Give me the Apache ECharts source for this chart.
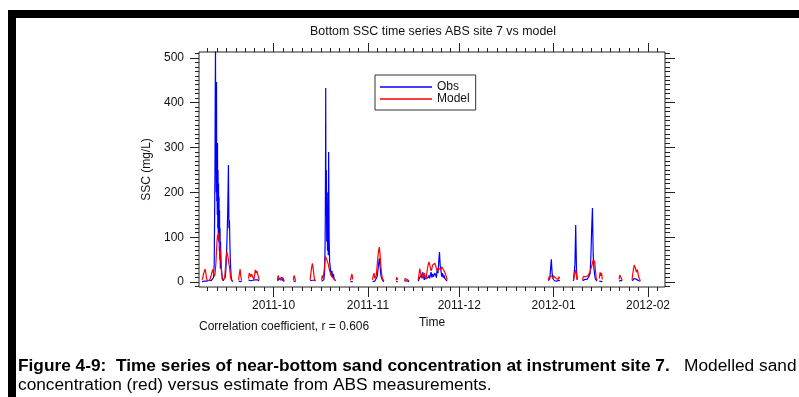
<!DOCTYPE html>
<html>
<head>
<meta charset="utf-8">
<script src="https://cdn.jsdelivr.net/npm/echarts@6/dist/echarts.min.js"></script>
<style>
  html, body { margin: 0; padding: 0; background: #fff; }
  #chart { width: 799px; height: 397px; }
</style>
</head>
<body>
<div id="chart"></div>
<script>
// Bottom SSC at ABS site 7: observed (ABS estimate) vs modelled, mg/L.
// Rows are aligned across times / obs / model, one line per burst of records;
// a null row breaks the line where there is no record.
const times = [
  '2011-09-07 12:00','2011-09-07 18:00','2011-09-08 00:00','2011-09-08 06:00','2011-09-08 12:00','2011-09-08 18:00','2011-09-09 00:00','2011-09-09 06:00','2011-09-09 12:00','2011-09-09 18:00','2011-09-10 00:00','2011-09-10 06:00','2011-09-10 12:00','2011-09-10 18:00','2011-09-11 00:00','2011-09-11 06:00','2011-09-11 12:00',
  '2011-09-11 18:00','2011-09-11 20:00','2011-09-11 22:00','2011-09-12 00:00','2011-09-12 02:00','2011-09-12 04:00','2011-09-12 06:00','2011-09-12 08:00','2011-09-12 10:00','2011-09-12 12:00','2011-09-12 14:00','2011-09-12 16:00','2011-09-12 18:00','2011-09-12 20:00','2011-09-12 22:00','2011-09-13 00:00','2011-09-13 02:00','2011-09-13 04:00','2011-09-13 06:00','2011-09-13 08:00','2011-09-13 10:00','2011-09-13 12:00','2011-09-13 14:00','2011-09-13 18:00','2011-09-13 22:00',
  '2011-09-14 04:00','2011-09-14 10:00','2011-09-14 16:00','2011-09-14 22:00','2011-09-15 04:00','2011-09-15 10:00','2011-09-15 16:00','2011-09-15 22:00','2011-09-16 04:00','2011-09-16 08:00','2011-09-16 12:00','2011-09-16 16:00','2011-09-16 20:00','2011-09-17 02:00','2011-09-17 08:00','2011-09-17 14:00','2011-09-18 00:00',
  '2011-09-19 12:00','2011-09-19 18:00','2011-09-20 00:00','2011-09-20 06:00','2011-09-20 12:00','2011-09-21 00:00',
  '2011-09-22 18:00','2011-09-23 00:00','2011-09-23 06:00','2011-09-23 12:00','2011-09-23 18:00','2011-09-24 00:00','2011-09-24 06:00','2011-09-24 12:00','2011-09-24 18:00','2011-09-25 00:00','2011-09-25 06:00','2011-09-25 12:00','2011-09-25 18:00','2011-09-26 00:00','2011-09-26 06:00','2011-09-27 00:00',
  '2011-10-02 06:00','2011-10-02 12:00','2011-10-02 18:00','2011-10-03 00:00','2011-10-03 06:00','2011-10-03 12:00','2011-10-03 18:00','2011-10-04 00:00','2011-10-04 06:00','2011-10-04 12:00','2011-10-05 00:00',
  '2011-10-07 12:00','2011-10-07 18:00','2011-10-08 00:00','2011-10-08 06:00','2011-10-09 00:00',
  '2011-10-13 00:00','2011-10-13 06:00','2011-10-13 12:00','2011-10-13 18:00','2011-10-14 00:00','2011-10-14 06:00','2011-10-14 12:00','2011-10-14 18:00','2011-10-15 12:00',
  '2011-10-16 18:00','2011-10-17 00:00','2011-10-17 06:00','2011-10-17 12:00','2011-10-17 18:00','2011-10-17 22:00','2011-10-18 00:00','2011-10-18 02:00','2011-10-18 03:00','2011-10-18 05:00','2011-10-18 08:00','2011-10-18 11:00','2011-10-18 14:00','2011-10-18 17:00','2011-10-18 20:00','2011-10-18 23:00','2011-10-19 02:00','2011-10-19 06:00','2011-10-19 10:00','2011-10-19 16:00','2011-10-19 22:00','2011-10-20 04:00','2011-10-20 10:00','2011-10-20 16:00','2011-10-20 22:00','2011-10-21 04:00','2011-10-21 10:00','2011-10-22 00:00',
  '2011-10-26 06:00','2011-10-26 12:00','2011-10-26 18:00','2011-10-27 00:00','2011-10-28 00:00',
  '2011-11-02 12:00','2011-11-02 18:00','2011-11-03 00:00','2011-11-03 06:00','2011-11-03 12:00','2011-11-03 18:00','2011-11-04 00:00','2011-11-04 06:00','2011-11-04 12:00','2011-11-04 18:00','2011-11-05 00:00','2011-11-05 06:00','2011-11-05 12:00','2011-11-05 18:00','2011-11-06 00:00','2011-11-06 06:00','2011-11-07 00:00',
  '2011-11-10 06:00','2011-11-10 12:00','2011-11-10 18:00','2011-11-11 12:00',
  '2011-11-13 00:00','2011-11-13 06:00','2011-11-13 12:00','2011-11-13 18:00','2011-11-14 00:00','2011-11-14 06:00','2011-11-14 12:00','2011-11-15 12:00',
  '2011-11-17 12:00','2011-11-17 18:00','2011-11-18 00:00','2011-11-18 06:00','2011-11-18 12:00','2011-11-18 18:00','2011-11-19 00:00','2011-11-19 06:00','2011-11-19 12:00','2011-11-19 18:00','2011-11-20 00:00','2011-11-20 06:00','2011-11-20 12:00','2011-11-20 18:00','2011-11-21 00:00','2011-11-21 06:00','2011-11-21 12:00','2011-11-21 18:00','2011-11-22 00:00','2011-11-22 06:00','2011-11-22 12:00','2011-11-22 18:00','2011-11-23 00:00','2011-11-23 06:00','2011-11-23 12:00','2011-11-23 18:00','2011-11-24 00:00','2011-11-24 06:00','2011-11-24 12:00','2011-11-24 18:00','2011-11-25 00:00','2011-11-25 06:00','2011-11-25 12:00','2011-11-25 18:00','2011-11-26 00:00','2011-11-26 06:00','2011-11-26 12:00','2011-11-26 18:00','2011-11-27 00:00','2011-11-28 00:00',
  '2011-12-30 06:00','2011-12-30 12:00','2011-12-30 18:00','2011-12-31 00:00','2011-12-31 06:00','2011-12-31 12:00','2011-12-31 18:00','2012-01-01 00:00','2012-01-01 06:00','2012-01-01 12:00','2012-01-01 18:00','2012-01-02 00:00','2012-01-02 06:00','2012-01-02 12:00','2012-01-02 18:00','2012-01-03 00:00','2012-01-04 00:00',
  '2012-01-07 12:00','2012-01-07 18:00','2012-01-08 00:00','2012-01-08 06:00','2012-01-08 12:00','2012-01-08 18:00','2012-01-09 12:00',
  '2012-01-10 12:00','2012-01-10 18:00','2012-01-11 00:00','2012-01-11 06:00','2012-01-11 12:00','2012-01-11 18:00','2012-01-12 00:00','2012-01-12 06:00','2012-01-12 12:00','2012-01-12 18:00','2012-01-13 00:00','2012-01-13 06:00','2012-01-13 12:00','2012-01-13 18:00','2012-01-14 00:00','2012-01-14 06:00','2012-01-14 12:00','2012-01-14 18:00','2012-01-15 00:00','2012-01-15 06:00','2012-01-15 18:00',
  '2012-01-16 00:00','2012-01-16 06:00','2012-01-16 12:00','2012-01-16 18:00','2012-01-17 00:00','2012-01-18 00:00',
  '2012-01-22 12:00','2012-01-22 18:00','2012-01-23 00:00','2012-01-23 06:00','2012-01-23 12:00','2012-01-24 00:00',
  '2012-01-26 18:00','2012-01-27 00:00','2012-01-27 06:00','2012-01-27 12:00','2012-01-27 18:00','2012-01-28 00:00','2012-01-28 06:00','2012-01-28 12:00','2012-01-28 18:00','2012-01-29 00:00','2012-01-29 06:00','2012-01-29 12:00'
];

const obs = [
  1,2,3,2,3,2,2,3,2,4,3,5,3,4,6,10,40,
  250,420,520,300,380,200,446,180,300,150,310,120,250,100,220,90,190,70,160,50,120,30,90,40,25,
  8,3,2,5,12,40,90,150,261,120,138,80,40,10,3,1,null,
  2,1,2,1,2,null,
  5,7,6,3,5,6,4,2,3,5,4,6,5,3,2,null,
  3,5,3,8,12,6,10,4,2,1,null,
  3,5,2,1,null,
  3,4,5,4,5,3,4,2,null,
  2,3,2,5,20,80,150,300,433,150,250,90,200,70,160,60,290,100,45,30,15,25,10,18,6,10,3,null,
  1,2,1,1,null,
  1,2,1,2,3,5,12,25,40,53,35,15,8,4,2,1,null,
  1,2,1,null,
  2,3,5,3,4,2,1,null,
  2,5,10,6,15,8,22,12,5,15,8,12,6,10,15,8,12,22,10,18,12,8,20,15,10,30,20,45,67,35,25,12,20,10,15,8,10,4,2,null,
  3,5,8,30,51,20,8,5,3,6,4,2,5,3,4,2,null,
  2,5,40,127,30,5,null,
  3,5,4,6,5,4,6,8,10,15,20,60,120,165,60,30,15,6,3,2,null,
  2,3,2,1,2,null,
  2,3,2,4,2,null,
  3,5,6,8,5,10,6,8,5,3,4,2
];

const model = [
  5,10,18,24,29,20,8,3,2,3,4,8,15,22,28,20,12,
  18,22,30,38,45,58,70,80,90,98,105,100,95,102,110,105,100,92,85,78,70,65,60,40,20,
  5,2,1,8,30,55,67,60,50,40,35,25,12,5,2,1,null,
  5,18,29,12,3,null,
  8,20,22,12,18,22,10,5,15,27,20,25,27,12,5,null,
  5,15,8,5,6,4,8,10,6,3,null,
  5,15,8,3,null,
  5,20,32,42,30,15,5,3,null,
  5,15,8,20,35,45,58,57,55,54,52,50,48,45,42,40,38,30,25,20,14,18,10,8,5,4,3,null,
  4,12,18,6,null,
  5,15,20,8,5,15,35,55,70,78,60,35,18,8,4,2,null,
  4,11,5,null,
  3,8,6,9,5,8,3,null,
  5,15,30,22,12,18,10,15,20,12,6,15,28,38,45,40,32,25,30,38,42,35,42,36,30,28,24,30,34,32,28,34,30,28,25,22,25,12,5,null,
  5,12,8,10,14,12,8,14,10,12,8,12,10,6,12,8,null,
  4,12,22,27,15,5,null,
  5,12,12,11,12,13,12,14,18,20,25,30,35,42,50,54,45,25,8,4,null,
  8,22,14,20,6,null,
  6,16,20,12,4,null,
  5,18,30,38,42,35,22,28,18,10,6,3
];

// Axis ticks and labels
const yTicks = [0, 100, 200, 300, 400, 500];
const monthTicks = ['2011-10-01', '2011-11-01', '2011-12-01', '2012-01-01', '2012-02-01'];
const xStart = '2011-09-06 12:00';
const xEnd = '2012-02-06 14:00';
const yMin = -11;
const yMax = 513;

const FONT = "'Liberation Sans', Arial, Helvetica, sans-serif";
const INK = '#111';

function toTime(s) {
  const [d, t = '00:00'] = s.split(' ');
  const [y, m, dd] = d.split('-').map(Number);
  const [hh, mm] = t.split(':').map(Number);
  return new Date(y, m - 1, dd, hh, mm).getTime();
}

const obsData = times.map((t, i) => [toTime(t), obs[i] == null ? '-' : obs[i]]);
const modelData = times.map((t, i) => [toTime(t), model[i] == null ? '-' : model[i]]);

// Month ticks, and minor ticks splitting each month into ten parts
const monthMs = monthTicks.map(s => toTime(s));
const minorX = [];
for (let i = 0; i < monthMs.length - 1; i++) {
  const step = (monthMs[i + 1] - monthMs[i]) / 10;
  for (let k = 1; k < 10; k++) minorX.push(monthMs[i] + k * step);
}
const firstStep = (monthMs[1] - monthMs[0]) / 10;
for (let v = monthMs[0] - firstStep; v >= toTime(xStart); v -= firstStep) minorX.push(v);
const lastStep = (toTime('2012-03-01') - monthMs[monthMs.length - 1]) / 10;
for (let v = monthMs[monthMs.length - 1] + lastStep; v <= toTime(xEnd); v += lastStep) minorX.push(v);
minorX.sort((a, b) => a - b);

const minorY = [];
for (let v = -10; v <= 510; v += 10) if (v % 100 !== 0) minorY.push(v);

function pad(n) { return (n < 10 ? '0' : '') + n; }
function monthLabel(v) {
  const d = new Date(v);
  return d.getFullYear() + '-' + pad(d.getMonth() + 1);
}

const tickLine = { color: '#222', width: 1 };
const gridBox = { left: 199, right: 134, top: 52, bottom: 110 };

// time runs on a numeric (epoch ms) axis so ticks can sit exactly on month starts
function xAx(gridIndex, position, ticks, len, labels) {
  return {
    type: 'value', gridIndex, position, scale: true,
    min: toTime(xStart), max: toTime(xEnd),
    axisLine: { show: false, onZero: false },
    axisTick: { show: true, customValues: ticks, length: len, inside: false, lineStyle: tickLine },
    axisLabel: labels ? {
      show: true, customValues: ticks, formatter: monthLabel, margin: 13,
      fontSize: 12, color: INK, fontFamily: FONT
    } : { show: false },
    splitLine: { show: false },
    axisPointer: { show: false }
  };
}
function yAx(gridIndex, position, ticks, len, labels) {
  return {
    type: 'value', gridIndex, position, min: yMin, max: yMax,
    axisLine: { show: false, onZero: false },
    axisTick: { show: true, customValues: ticks, length: len, inside: false, lineStyle: tickLine },
    axisLabel: labels ? {
      show: true, customValues: ticks, margin: 15, fontSize: 12, color: INK, fontFamily: FONT
    } : { show: false },
    splitLine: { show: false }
  };
}

const xAxes = [
  Object.assign(xAx(0, 'bottom', monthMs, 10, true), {
    name: 'Time', nameLocation: 'middle', nameGap: 21,
    nameTextStyle: { fontSize: 12, color: INK, fontFamily: FONT }
  }),
  xAx(0, 'top', monthMs, 9, false),
  xAx(1, 'bottom', minorX, 4, false),
  xAx(1, 'top', minorX, 4, false)
];
const yAxes = [
  Object.assign(yAx(0, 'left', yTicks, 9, true), {
    name: 'SSC (mg/L)', nameLocation: 'middle', nameGap: 43, nameRotate: 90,
    nameTextStyle: { fontSize: 12, color: INK, fontFamily: FONT }
  }),
  yAx(0, 'right', yTicks, 10, false),
  yAx(1, 'left', minorY, 4, false),
  yAx(1, 'right', minorY, 5, false)
];

const chart = echarts.init(document.getElementById('chart'), null, { renderer: 'canvas' });
chart.setOption({
  animation: false,
  backgroundColor: '#ffffff',
  title: {
    text: 'Bottom SSC time series ABS site 7 vs model',
    left: 433, top: 26, textAlign: 'center', padding: 0,
    textStyle: { fontSize: 12.4, fontWeight: 'normal', color: INK, fontFamily: FONT }
  },
  legend: {
    data: ['Obs', 'Model'],
    orient: 'vertical', left: 375, top: 75,
    icon: 'rect', itemWidth: 52, itemHeight: 1.5, itemGap: 0,
    padding: [6, 6, 5, 5],
    borderColor: '#333', borderWidth: 1, backgroundColor: '#fff',
    textStyle: { fontSize: 12, lineHeight: 12, color: INK, fontFamily: FONT }
  },
  grid: [
    Object.assign({ show: true, borderColor: '#222', borderWidth: 1, backgroundColor: 'transparent', containLabel: false }, gridBox),
    Object.assign({ show: false, containLabel: false }, gridBox)
  ],
  xAxis: xAxes,
  yAxis: yAxes,
  series: [
    {
      name: 'Obs', type: 'line', xAxisIndex: 0, yAxisIndex: 0,
      data: obsData, symbol: 'none', showSymbol: false, connectNulls: false,
      lineStyle: { color: '#0000ff', width: 1.2 }, itemStyle: { color: '#0000ff' }
    },
    {
      name: 'Model', type: 'line', xAxisIndex: 0, yAxisIndex: 0,
      data: modelData, symbol: 'none', showSymbol: false, connectNulls: false,
      lineStyle: { color: '#ff0000', width: 1.2 }, itemStyle: { color: '#ff0000' }
    }
  ],
  graphic: [
    // page frame
    { type: 'rect', shape: { x: 8, y: 10, width: 791, height: 8 }, style: { fill: '#000' }, silent: true },
    { type: 'rect', shape: { x: 8, y: 10, width: 8, height: 387 }, style: { fill: '#000' }, silent: true },
    {
      type: 'text', left: 199, top: 321,
      style: { text: 'Correlation coefficient, r = 0.606', fontSize: 12, fill: INK, fontFamily: FONT }
    },
    {
      type: 'text', left: 18, top: 358,
      style: {
        text: '{b|Figure 4-9:  Time series of near-bottom sand concentration at instrument site 7.}{n|   Modelled sand}',
        fontFamily: FONT,
        rich: {
          b: { fontSize: 17.3, fontWeight: 'bold', fill: '#000', fontFamily: FONT },
          n: { fontSize: 17.3, fill: '#000', fontFamily: FONT }
        }
      }
    },
    {
      type: 'text', left: 18, top: 377,
      style: { text: 'concentration (red) versus estimate from ABS measurements.', fontSize: 17.3, fill: '#000', fontFamily: FONT }
    }
  ]
});
</script>
</body>
</html>
